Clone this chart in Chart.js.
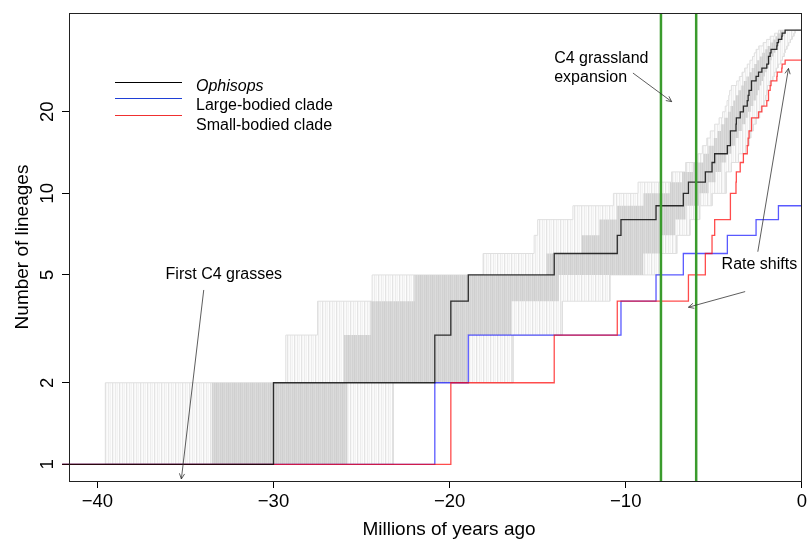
<!DOCTYPE html>
<html lang="en">
<head>
<meta charset="UTF-8">
<title>Lineages through time</title>
<script src="https://cdn.jsdelivr.net/npm/chart.js"></script>
<style>
  html, body { margin: 0; padding: 0; background: #fff; }
  canvas { display: block; }
</style>
</head>
<body>
<canvas id="ltt" width="810" height="540"></canvas>
<script>
// times in millions of years (negative = past)
// entry i of each list = time the lineage count rises to i + 2
const rootAge = -42;
const ophisopsTimes = [-30.0, -20.84, -19.93, -18.94, -14.06, -10.48, -10.27, -8.28, -6.73, -6.44,
  -5.48, -5.10, -4.95, -4.23, -4.07, -4.05, -3.74, -3.72, -3.50, -3.32,
  -3.10, -3.05, -3.00, -2.88, -2.85, -2.60, -2.46, -2.27, -1.99, -1.92,
  -1.88, -1.80, -1.75, -1.42, -1.40, -1.33, -1.14, -1.12, -0.95];
const largeTimes = [-20.84, -18.94, -10.27, -8.28, -6.73, -4.23, -2.60, -1.33];
const smallTimes = [-19.93, -14.06, -10.48, -6.44, -5.48, -5.10, -4.95, -4.07, -4.05, -3.74,
  -3.72, -3.50, -3.32, -3.10, -3.05, -3.00, -2.88, -2.85, -2.46, -2.27,
  -1.99, -1.92, -1.88, -1.80, -1.75, -1.42, -1.40, -1.14, -1.12, -0.95];

// posterior trees: earliest / latest time each count is reached (whole spread and dense core)
const cloudEarly = [-39.55, -29.3, -27.5, -24.4, -18.1, -15.2, -15.0, -13.0, -10.7, -9.3,
  -7.4, -6.6, -5.9, -5.65, -5.4, -5.2, -4.95, -4.7, -4.5, -4.35,
  -4.25, -4.15, -4.1, -4.0, -3.7, -3.55, -3.4, -3.25, -3.1, -2.95,
  -2.8, -2.7, -2.6, -2.45, -2.2, -2.0, -1.8, -1.55, -1.33];
const cloudLate = [-23.2, -16.4, -13.6, -10.9, -8.0, -7.1, -6.35, -5.8, -5.1, -4.3,
  -4.3, -4.0, -3.6, -3.2, -3.0, -2.9, -2.75, -2.6, -2.4, -2.3,
  -2.15, -2.05, -2.0, -1.95, -1.8, -1.65, -1.55, -1.45, -1.35, -1.2,
  -1.1, -1.0, -0.95, -0.85, -0.75, -0.65, -0.55, -0.45, -0.38];
const coreEarly = [-33.5, -26.0, -24.5, -22.0, -14.5, -12.5, -11.5, -10.5, -9.0, -7.5,
  -6.8, -6.2, -5.6, -5.3, -5.0, -4.8, -4.6, -4.4, -4.2, -4.05,
  -3.9, -3.75, -3.6, -3.45, -3.3, -3.15, -3.0, -2.85, -2.7, -2.55,
  -2.4, -2.25, -2.1, -1.95, -1.8, -1.65, -1.5, -1.4, -1.25];
const coreLate = [-25.8, -19.0, -16.5, -13.8, -9.0, -8.0, -7.2, -6.6, -5.8, -5.3,
  -4.9, -4.6, -4.3, -4.0, -3.8, -3.6, -3.4, -3.2, -3.05, -2.9,
  -2.75, -2.6, -2.5, -2.4, -2.3, -2.2, -2.1, -2.0, -1.9, -1.8,
  -1.7, -1.6, -1.5, -1.4, -1.3, -1.2, -1.1, -1.0, -0.9];

const grassTimes = [-8, -6];
const xTicks = [-40, -30, -20, -10, 0];
const yTicks = [1, 2, 5, 10, 20];
const seriesNames = ['Ophisops', 'Large-bodied clade', 'Small-bodied clade'];
const seriesColors = ['rgba(0,0,0,0.8)', 'rgba(0,0,255,0.65)', 'rgba(255,0,0,0.7)'];

const X_MIN = -41.61, X_MAX = 0, Y_MIN = 0.868, Y_MAX = 46.3;
const FONT = '"Liberation Sans", Arial, Helvetica, sans-serif';

// step curve with explicit corners
function ltt(times) {
  const pts = [{x: rootAge, y: 1}];
  times.forEach((t, i) => {
    pts.push({x: t, y: i + 1});
    pts.push({x: t, y: i + 2});
  });
  pts.push({x: 0, y: times.length + 1});
  return pts;
}

// closed band between the early (upper-left) and late (lower-right) step curves
function band(early, late) {
  const pts = [];
  early.forEach((t, i) => {
    pts.push({x: t, y: i + 1});
    pts.push({x: t, y: i + 2});
  });
  pts.push({x: 0, y: early.length + 1});
  for (let i = late.length - 1; i >= 0; i--) {
    pts.push({x: late[i], y: i + 2});
    pts.push({x: late[i], y: i + 1});
  }
  pts.push({x: early[0], y: 1});
  return pts;
}

// thin vertical hatching so the cloud reads like many overplotted trees
function hatch(colors) {
  const c = document.createElement('canvas');
  c.width = colors.length;
  c.height = 1;
  const g = c.getContext('2d');
  colors.forEach((col, i) => { g.fillStyle = col; g.fillRect(i, 0, 1, 1); });
  return g.createPattern(c, 'repeat');
}
const outerFill = hatch(['#e4e4e4', '#f6f6f6', '#fbfbfb', '#ececec', '#f8f8f8', '#f3f3f3', '#fdfdfd']);
const coreFill = hatch(['#cfcfcf', '#d8d8d8', '#d3d3d3', '#dcdcdc', '#d1d1d1', '#d9d9d9']);

const datasets = [
  { data: band(cloudEarly, cloudLate), borderColor: '#e0e0e0', borderWidth: 1,
    backgroundColor: outerFill, fill: 'shape', order: 10 },
  { data: band(coreEarly, coreLate), borderWidth: 0, borderColor: 'rgba(0,0,0,0)',
    backgroundColor: coreFill, fill: 'shape', order: 9 },
  { data: ltt(largeTimes), borderColor: seriesColors[1], borderWidth: 1.3, fill: false, clip: false, order: 4 },
  { data: ltt(smallTimes), borderColor: seriesColors[2], borderWidth: 1.3, fill: false, clip: false, order: 3 },
  { data: ltt(ophisopsTimes), borderColor: seriesColors[0], borderWidth: 1.3, fill: false, clip: false, order: 2 }
];
grassTimes.forEach(t => datasets.push({
  data: [{x: t, y: Y_MIN}, {x: t, y: Y_MAX}],
  borderColor: 'rgb(58,155,45)', borderWidth: 2.5, fill: false, order: 1
}));

function arrow(ctx, x1, y1, x2, y2) {
  const a = Math.atan2(y2 - y1, x2 - x1), len = 6, spread = 0.45;
  ctx.beginPath();
  ctx.moveTo(x1, y1);
  ctx.lineTo(x2, y2);
  ctx.moveTo(x2 - len * Math.cos(a - spread), y2 - len * Math.sin(a - spread));
  ctx.lineTo(x2, y2);
  ctx.lineTo(x2 - len * Math.cos(a + spread), y2 - len * Math.sin(a + spread));
  ctx.stroke();
}

const overlay = {
  id: 'overlay',
  afterDraw(chart) {
    const {ctx, chartArea: area, scales: {x, y}} = chart;
    ctx.save();

    // frame
    ctx.strokeStyle = '#222';
    ctx.lineWidth = 1;
    ctx.strokeRect(Math.round(area.left) + 0.5, Math.round(area.top) + 0.5,
      Math.round(area.right - area.left) - 1, Math.round(area.bottom - area.top));

    // y tick labels, rotated like R
    ctx.fillStyle = '#000';
    ctx.font = '18.5px ' + FONT;
    ctx.textAlign = 'center';
    ctx.textBaseline = 'alphabetic';
    yTicks.forEach(v => {
      ctx.save();
      ctx.translate(52.5, y.getPixelForValue(v));
      ctx.rotate(-Math.PI / 2);
      ctx.fillText(String(v), 0, 0);
      ctx.restore();
    });

    // axis titles
    ctx.font = '19px ' + FONT;
    ctx.fillText('Millions of years ago', 449, 535);
    ctx.save();
    ctx.translate(28, (area.top + area.bottom) / 2);
    ctx.rotate(-Math.PI / 2);
    ctx.fillText('Number of lineages', 0, 0);
    ctx.restore();

    // legend
    const legY = [82.5, 98.5, 115.5], legText = [90.5, 109.5, 129.5];
    ctx.textAlign = 'left';
    seriesNames.forEach((name, i) => {
      ctx.strokeStyle = ['#000', '#1f3fd6', '#f03030'][i];
      ctx.lineWidth = 1;
      ctx.beginPath();
      ctx.moveTo(115, legY[i]);
      ctx.lineTo(182, legY[i]);
      ctx.stroke();
      ctx.font = (i === 0 ? 'italic ' : '') + '16px ' + FONT;
      ctx.fillText(name, 196, legText[i]);
    });

    // annotations
    ctx.font = '16px ' + FONT;
    ctx.textAlign = 'center';
    ctx.fillText('First C4 grasses', x.getPixelForValue(-32.82), y.getPixelForValue(4.82));
    ctx.fillText('Rate shifts', x.getPixelForValue(-2.41), y.getPixelForValue(5.26));
    ctx.textAlign = 'left';
    ctx.fillText('C4 grassland', x.getPixelForValue(-14.06), y.getPixelForValue(30.36));
    ctx.fillText('expansion', x.getPixelForValue(-14.06), y.getPixelForValue(25.84));

    ctx.strokeStyle = '#333';
    ctx.lineWidth = 0.8;
    const arrows = [
      [-33.96, 4.40, -35.23, 0.883],
      [-9.59, 27.8, -7.39, 21.8],
      [-2.5, 6.09, -0.76, 28.9],
      [-3.22, 4.34, -6.44, 3.80]
    ];
    arrows.forEach(([x1, y1, x2, y2]) => arrow(ctx,
      x.getPixelForValue(x1), y.getPixelForValue(y1),
      x.getPixelForValue(x2), y.getPixelForValue(y2)));

    ctx.restore();
  }
};

new Chart(document.getElementById('ltt').getContext('2d'), {
  type: 'line',
  data: { datasets: datasets },
  plugins: [overlay],
  options: {
    responsive: false,
    animation: false,
    layout: { padding: { top: 13, right: 8, left: 0, bottom: 0 } },
    plugins: { legend: { display: false }, tooltip: { enabled: false } },
    elements: { point: { radius: 0 }, line: { tension: 0 } },
    scales: {
      x: {
        type: 'linear', min: X_MIN, max: X_MAX,
        afterBuildTicks: s => { s.ticks = xTicks.map(v => ({value: v})); },
        afterFit: s => { s.height = 59; },
        grid: { drawOnChartArea: false, drawTicks: true, tickLength: 7, color: '#000' },
        border: { display: false },
        ticks: {
          color: '#000', padding: 3, maxRotation: 0, autoSkip: false,
          font: { family: FONT, size: 18.5 },
          callback: v => v < 0 ? '\u2212' + (-v) : String(v)
        }
      },
      y: {
        type: 'logarithmic', min: Y_MIN, max: Y_MAX,
        afterBuildTicks: s => { s.ticks = yTicks.map(v => ({value: v})); },
        afterFit: s => { s.width = 69; },
        grid: { drawOnChartArea: false, drawTicks: true, tickLength: 7, color: '#000' },
        border: { display: false },
        ticks: { display: false }
      }
    }
  }
});
</script>
</body>
</html>
